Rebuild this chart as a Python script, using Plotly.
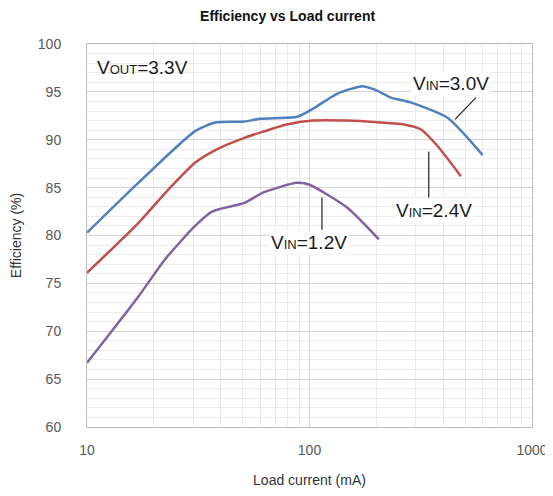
import plotly.graph_objects as go

# Data
load_30 = [10, 17, 30.6, 37.7, 51, 60, 88, 103, 133, 173, 198, 232, 285, 417, 600]
eff_30 = [80.3, 85.5, 90.9, 91.8, 91.9, 92.2, 92.4, 93.2, 94.8, 95.6, 95.2, 94.4, 93.9, 92.3, 88.4]

load_24 = [10, 17, 23.2, 30.6, 39.1, 51, 60, 79, 103, 148, 209, 266, 316, 376, 479]
eff_24 = [76.1, 81.3, 84.8, 87.6, 89.1, 90.2, 90.75, 91.6, 92.0, 92.0, 91.8, 91.6, 91.1, 89.35, 86.2]

load_12 = [10, 17, 22.4, 30.6, 36.5, 51, 62, 88, 100, 148, 205]
eff_12 = [66.7, 73.6, 77.5, 81.0, 82.5, 83.4, 84.5, 85.5, 85.3, 82.9, 79.6]

x_ticks = [10, 100, 1000]
y_ticks = [60, 65, 70, 75, 80, 85, 90, 95, 100]

series = [
    ("VIN=3.0V", load_30, eff_30, "#4F81BD"),
    ("VIN=2.4V", load_24, eff_24, "#C0504D"),
    ("VIN=1.2V", load_12, eff_12, "#8064A2"),
]

fig = go.Figure()
for name, xs, ys, col in series:
    fig.add_trace(go.Scatter(x=xs, y=ys, mode="lines", name=name,
                             line=dict(color=col, width=2.5, shape="spline", smoothing=0.6),
                             showlegend=False))

FONT = "Liberation Sans, Arial, sans-serif"

# page body has an 8px margin; the figure is sized/offset to compensate
W, H = 545, 488
fig.update_layout(
    width=W, height=H,
    margin=dict(l=79, r=21, t=36, b=69),
    paper_bgcolor="white", plot_bgcolor="white",
    title=dict(text="<b>Efficiency vs Load current</b>", x=0.513, xanchor="center",
               y=1 - 8 / H, yanchor="middle", font=dict(family=FONT, size=14, color="#111")),
    font=dict(family=FONT, color="#595959", size=14),
)

fig.update_xaxes(
    type="log", range=[1, 3], tickvals=x_ticks, ticktext=[str(v) for v in x_ticks],
    showgrid=True, gridcolor="#d4d4d4", gridwidth=1,
    minor=dict(dtick="D1", showgrid=True, gridcolor="#ebebeb", gridwidth=1, ticks=""),
    showline=True, linecolor="#bfbfbf", mirror=True, ticks="", zeroline=False,
    tickfont=dict(size=14, color="#595959"), ticklabelstandoff=10,
    title=dict(text="Load current (mA)", font=dict(size=14, color="#333"), standoff=18),
    automargin=False,
)
fig.update_yaxes(
    range=[60, 100], tickvals=y_ticks,
    showgrid=True, gridcolor="#d4d4d4", gridwidth=1,
    minor=dict(dtick=1, showgrid=True, gridcolor="#ebebeb", gridwidth=1, ticks=""),
    showline=True, linecolor="#bfbfbf", mirror=True, ticks="", zeroline=False,
    tickfont=dict(size=14, color="#595959"), ticklabelstandoff=22,
    title=dict(text="Efficiency (%)", font=dict(size=14, color="#333"), standoff=12),
    automargin=False,
)

def vlabel(main, sub, val):
    return f"{main}<span style='font-size:13px'>{sub}</span>{val}"

labels = [
    (vlabel("V", "OUT", "=3.3V"), 0.018, 0.939, False),
    (vlabel("V", "IN", "=3.0V"), 0.728, 0.897, True),
    (vlabel("V", "IN", "=2.4V"), 0.690, 0.565, True),
    (vlabel("V", "IN", "=1.2V"), 0.409, 0.481, True),
]
for txt, xp, yp, bg in labels:
    fig.add_annotation(text=txt, xref="paper", yref="paper", x=xp, y=yp,
                       xanchor="left", yanchor="middle", showarrow=False,
                       bgcolor="white" if bg else None, borderpad=1,
                       font=dict(family=FONT, size=19, color="#1a1a1a"))

leaders = [
    (0.874, 0.860, 0.827, 0.803),
    (0.768, 0.719, 0.768, 0.599),
    (0.528, 0.599, 0.528, 0.515),
]
for x0, y0, x1, y1 in leaders:
    fig.add_shape(type="line", xref="paper", yref="paper", x0=x0, y0=y0, x1=x1, y1=y1,
                  line=dict(color="#222", width=1.2))

fig.write_html("out.html")
